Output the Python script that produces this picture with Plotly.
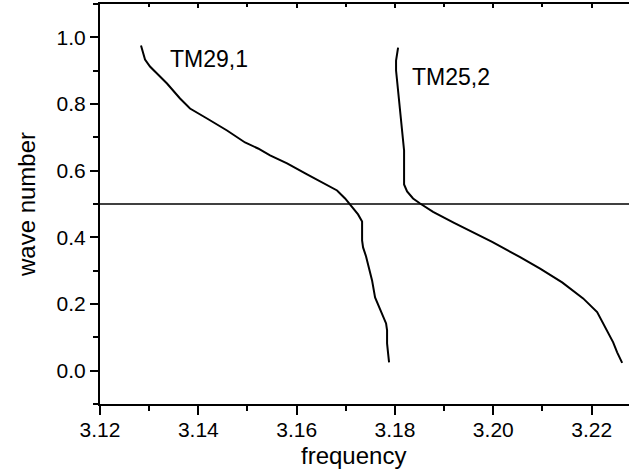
import plotly.graph_objects as go

# TM29,1 branch
tm29_freq = [3.12834, 3.12916, 3.13017, 3.13160, 3.13363, 3.13628, 3.13831, 3.14177,
             3.14584, 3.14950, 3.15215, 3.15459, 3.15805, 3.16212, 3.16517, 3.16822,
             3.16985, 3.17127, 3.17249, 3.17331, 3.17331, 3.17351, 3.17412, 3.17473,
             3.17534, 3.17595, 3.17738, 3.17819, 3.17839, 3.17839, 3.17860, 3.17880]
tm29_k = [0.9754, 0.9334, 0.9124, 0.8915, 0.8615, 0.8165, 0.7865, 0.7565,
          0.7205, 0.6846, 0.6666, 0.6456, 0.6216, 0.5886, 0.5646, 0.5406,
          0.5166, 0.4897, 0.4687, 0.4477, 0.3907, 0.3697, 0.3427, 0.3067,
          0.2708, 0.2198, 0.1718, 0.1418, 0.1208, 0.0819, 0.0519, 0.0249]

# TM25,2 branch
tm25_freq = [3.18063, 3.18022, 3.18022, 3.18043, 3.18083, 3.18124, 3.18165, 3.18185,
             3.18185, 3.18185, 3.18246, 3.18368, 3.18511, 3.18775, 3.19202, 3.19589,
             3.19976, 3.20545, 3.20952, 3.21400, 3.21827, 3.22112, 3.22295, 3.22438,
             3.22519, 3.22560, 3.22621]
tm25_k = [0.9694, 0.9304, 0.9004, 0.8705, 0.8105, 0.7565, 0.6996, 0.6606,
          0.6096, 0.5586, 0.5376, 0.5166, 0.5016, 0.4762, 0.4432, 0.4147,
          0.3862, 0.3406, 0.3058, 0.2648, 0.2168, 0.1757, 0.1238, 0.0849,
          0.0549, 0.0399, 0.0234]

hline_k = 0.5
labels = ["TM29,1", "TM25,2"]
label_x = [3.1338, 3.1831]
label_y = [0.9365, 0.880]

x_title = "frequency"
y_title = "wave number"

x_range = [3.12, 3.2276]
y_range = [-0.1, 1.1]

FONT = "Liberation Sans, Arial, sans-serif"

fig = go.Figure()
fig.add_trace(go.Scatter(x=tm29_freq, y=tm29_k, mode="lines",
                         line=dict(color="black", width=2), showlegend=False, hoverinfo="skip"))
fig.add_trace(go.Scatter(x=tm25_freq, y=tm25_k, mode="lines",
                         line=dict(color="black", width=2), showlegend=False, hoverinfo="skip"))
# invisible trace to display the top axis
fig.add_trace(go.Scatter(x=x_range, y=[None, None], xaxis="x2", mode="lines",
                         showlegend=False, hoverinfo="skip"))

fig.add_shape(type="line", xref="paper", x0=0, x1=1, yref="y", y0=hline_k, y1=hline_k,
              line=dict(color="black", width=1.4))

for t, xx, yy in zip(labels, label_x, label_y):
    fig.add_annotation(x=xx, y=yy, text=t, showarrow=False, xanchor="left", yanchor="middle",
                       font=dict(family=FONT, size=23, color="black"))

# x-axis title (slightly left of plot centre, as in the reference)
fig.add_annotation(text=x_title, xref="paper", yref="paper", x=0.48, y=-0.13,
                   xanchor="center", yanchor="middle", showarrow=False,
                   font=dict(family=FONT, size=24, color="black"))

fig.update_layout(
    width=629, height=472,
    margin=dict(l=100, r=0, t=4, b=68),
    paper_bgcolor="white", plot_bgcolor="white",
    font=dict(family=FONT, color="black"),
    xaxis=dict(
        range=x_range, dtick=0.02, tick0=3.12, tickformat=".2f",
        showgrid=False, zeroline=False,
        showline=True, linecolor="black", linewidth=2,
        ticks="outside", ticklen=9, tickwidth=2, tickcolor="black",
        minor=dict(dtick=0.01, tick0=3.12, ticks="outside", ticklen=5, tickwidth=2, tickcolor="black"),
        tickfont=dict(family=FONT, size=21, color="black"),
        ticklabelstandoff=-3,
    ),
    xaxis2=dict(
        overlaying="x", side="top", matches="x", range=x_range,
        dtick=0.02, tick0=3.12, showticklabels=False,
        showgrid=False, zeroline=False,
        showline=True, linecolor="black", linewidth=2,
        ticks="inside", ticklen=4, tickwidth=2, tickcolor="black",
        minor=dict(dtick=0.01, tick0=3.12, ticks="inside", ticklen=3, tickwidth=2, tickcolor="black"),
    ),
    yaxis=dict(
        range=y_range, dtick=0.2, tick0=0, tickformat=".1f",
        showgrid=False, zeroline=False,
        showline=True, linecolor="black", linewidth=2,
        ticks="outside", ticklen=8, tickwidth=2, tickcolor="black",
        minor=dict(dtick=0.1, tick0=0, ticks="outside", ticklen=5, tickwidth=2, tickcolor="black"),
        tickfont=dict(family=FONT, size=21, color="black"),
        title=dict(text=y_title, font=dict(family=FONT, size=24, color="black"), standoff=14),
    ),
)

fig.write_html("out.html")
